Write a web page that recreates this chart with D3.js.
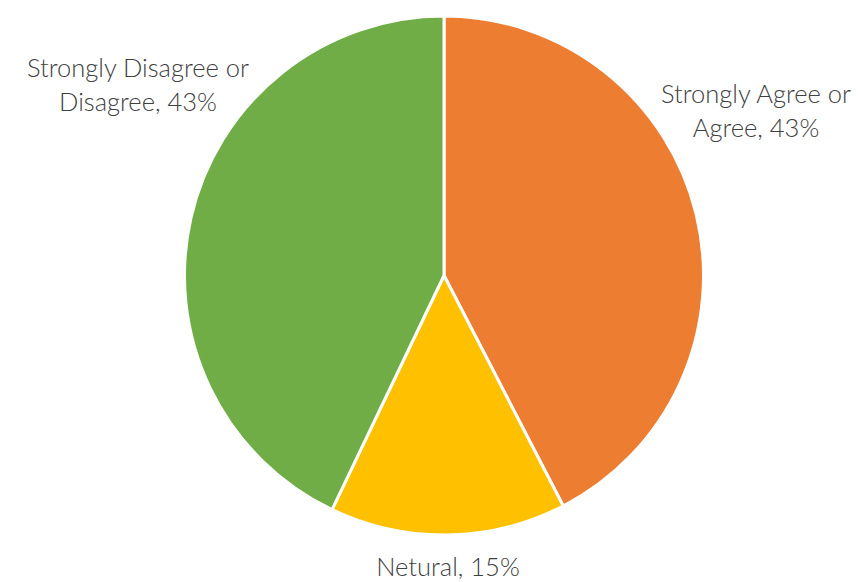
<!DOCTYPE html>
<html><head><meta charset="utf-8">
<script src="https://cdn.jsdelivr.net/npm/d3@7"></script>
<style>body{margin:0;background:#fff}text{font-family:Lato,"Noto Sans",sans-serif;fill:#404040}</style>
</head><body>
<svg id="c" width="859" height="582"></svg>
<script>
const categories = ["Strongly Agree or Agree", "Netural", "Strongly Disagree or Disagree"];
const values = [42.4, 14.7, 42.9];
const labels = ["43%", "15%", "43%"];
const colors = ["#ED7D31", "#FFC000", "#70AD47"];

const svg = d3.select("#c");
const cx = 444, cy = 275.5, r = 259.5;
const pie = d3.pie().sort(null).value(d => d)(values);
const arc = d3.arc().innerRadius(0).outerRadius(r);
const g = svg.append("g").attr("transform", `translate(${cx},${cy})`);
g.selectAll("path").data(pie).join("path")
  .attr("d", arc).attr("fill", (d,i) => colors[i])
  .attr("stroke", "#fff").attr("stroke-width", 3).attr("stroke-linejoin","round");

const labelPos = [
  {x: 756, y: 103, lines: ["Strongly Agree or", "Agree, " + labels[0]]},
  {x: 448, y: 576, lines: ["Netural, " + labels[1]]},
  {x: 138, y: 77, lines: ["Strongly Disagree or", "Disagree, " + labels[2]]}
];
labelPos.forEach(p => {
  const t = svg.append("text").attr("text-anchor","middle").attr("font-size", 25.5).attr("font-weight", 300);
  p.lines.forEach((l, i) => t.append("tspan").attr("x", p.x).attr("y", p.y + i*34).text(l));
});
</script>
</body></html>
